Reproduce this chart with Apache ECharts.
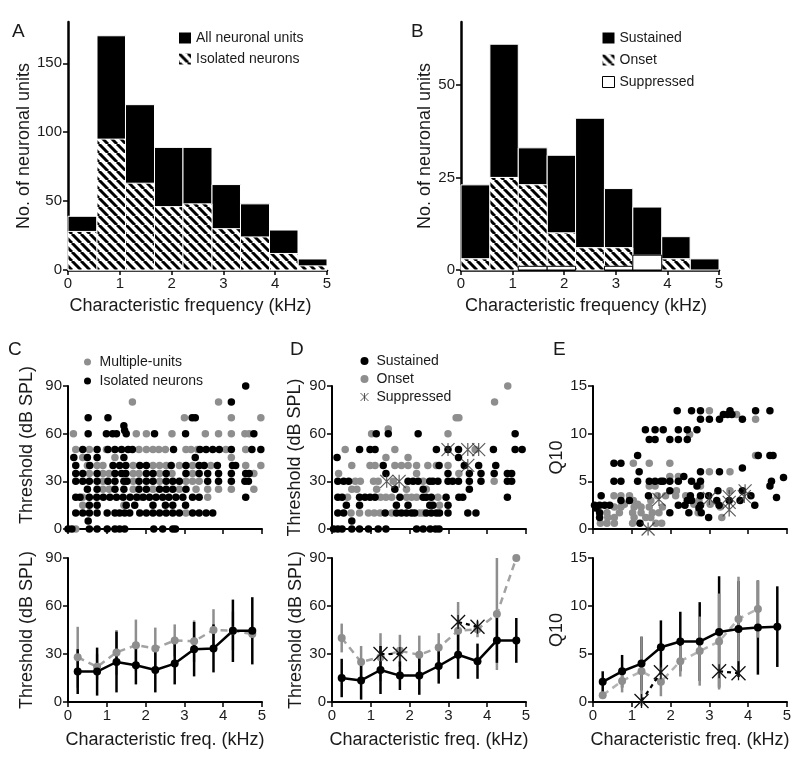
<!DOCTYPE html>
<html>
<head>
<meta charset="utf-8">
<script src="https://cdn.jsdelivr.net/npm/echarts@6/dist/echarts.min.js"></script>
<style>html,body{margin:0;background:#fff}#main{width:800px;height:766px}</style>
</head>
<body>
<div id="main"></div>
<script>
// ---------- data ----------
// histogram bins (kHz)
var cfBinEdges = [0, 0.56, 1.11, 1.67, 2.22, 2.78, 3.33, 3.89, 4.44, 5];
// A
var aAllUnits = [39, 170, 120, 89, 89, 62, 48, 29, 8];
var aIsolated = [28, 95, 63, 46, 48, 30, 24, 12, 3];
// B (stacked: suppressed, onset, sustained)
var bSuppressed = [0, 0, 1, 1, 0, 1, 4, 0, 0];
var bOnset = [3, 25, 22, 9, 6, 5, 0, 3, 0];
var bSustained = [20, 36, 10, 21, 35, 16, 13, 6, 3];

// scatter rows: [value, [CF kHz ...]]
var cIsolatedRows = [
    [90, [4.58]], [80, [4.21]], [70, [0.52, 1.03, 3.2, 3.28]], [65, [1.44]], [62, [1.46]],
    [60, [0.52, 0.99, 1.15, 1.25, 1.5, 2.23, 3.03, 4.79]],
    [50, [0.38, 0.75, 1.03, 1.21, 1.38, 1.55, 1.66, 2.72, 3.4, 3.56, 3.73, 3.9, 4.21, 4.74, 4.97]],
    [45, [0.15, 0.5, 0.75, 1.44, 3.28]],
    [40, [0.2, 0.56, 1.16, 1.33, 1.49, 1.85, 2.02, 2.66, 3.04, 3.38, 3.51, 3.85, 4.24, 4.32]],
    [35, [0.2, 0.38, 0.75, 1.21, 1.38, 1.49, 2.02, 2.19, 2.53, 3.04, 3.38, 3.6, 3.88, 4.21, 4.58, 4.67]],
    [30, [0.2, 0.38, 0.55, 0.75, 1.03, 1.21, 1.44, 1.52, 1.83, 2.02, 2.19, 2.53, 2.7, 2.87, 3.6, 3.88, 4.21, 4.56, 4.65]],
    [25, [0.5, 0.75, 1.21, 1.44, 1.83, 2.02, 2.36, 2.53, 2.7, 3.04]],
    [20, [0.2, 0.31, 0.55, 0.74, 0.91, 1.08, 1.25, 1.42, 1.6, 1.77, 1.94, 2.1, 2.27, 2.44, 2.6, 2.78, 2.96, 3.21, 3.38, 4.58]],
    [15, [0.55, 0.75, 1.5, 1.72, 2.19, 2.51, 2.7, 3.03]],
    [10, [0.2, 0.38, 0.55, 0.75, 1.01, 1.21, 1.33, 1.46, 1.59, 1.85, 2.02, 2.19, 2.36, 2.53, 2.7, 2.87, 3.21, 3.38, 3.56, 3.73]],
    [5, [0.52]],
    [0, [0.0, 0.1, 0.55, 0.75, 1.01, 1.21, 1.33, 1.46, 2.21, 2.44, 2.7, 2.77]]
];
var cMultiRows = [
    [80, [1.66, 3.88]], [70, [3.0, 4.21, 4.97]],
    [60, [0.14, 1.76, 2.02, 2.68, 3.54, 3.88, 4.21, 4.56, 4.67]],
    [50, [0.2, 0.55, 0.99, 1.83, 2.02, 2.19, 2.34, 2.51, 3.04, 3.17, 3.34, 4.07, 4.58]],
    [45, [0.38, 1.21, 4.21]],
    [40, [0.5, 0.75, 0.9, 1.68, 2.19, 2.36, 2.53, 2.87, 3.21, 3.68, 4.58, 4.97]],
    [35, [0.55, 0.9, 1.06, 1.68, 1.83, 2.36, 2.68, 3.21, 4.79]],
    [30, [0.9, 1.68, 2.36, 3.04, 3.21, 3.38]],
    [25, [0.9, 1.06, 1.68, 2.19, 2.87, 3.3, 3.6, 3.88, 4.21, 4.79]],
    [20, [0.38, 1.85, 3.6]], [15, [0.38, 1.44]], [10, [3.04]], [0, [0.2]]
];
var dSustainedRows = [
    [60, [1.14, 1.45, 2.22, 4.72]],
    [50, [0.71, 0.98, 1.11, 2.69, 2.99, 3.26, 4.16, 4.72, 4.9]],
    [45, [0.13, 3.26]],
    [40, [1.32, 2.76, 3.41, 3.78, 4.22]],
    [35, [1.39, 2.99, 3.54, 3.84, 4.18, 4.52, 4.63]],
    [30, [0.15, 0.3, 0.43, 1.96, 2.09, 2.22, 2.52, 2.6, 2.73, 2.99, 3.11, 3.26, 3.54, 3.84, 4.52, 4.63]],
    [25, [1.62, 2.35, 3.54]],
    [20, [0.15, 0.26, 0.71, 0.85, 0.98, 1.11, 1.75, 2.35, 2.43, 2.56, 2.94, 3.27, 3.37, 4.52]],
    [15, [0.37, 0.71, 1.66, 1.96, 2.52, 2.6, 2.99]],
    [10, [0.15, 0.3, 1.37, 1.66, 1.79, 1.92, 2.05, 2.13, 2.43, 2.56, 2.69, 2.77, 2.99, 3.5, 3.71]],
    [5, [0.51]],
    [0, [0.04, 0.15, 0.26, 0.51, 0.71, 0.94, 1.19, 1.39, 2.18, 2.35, 2.53, 2.67, 2.76]]
];
var dOnsetRows = [
    [90, [4.53]], [80, [4.19]], [70, [3.2, 3.27]], [63, [1.45]], [60, [1.02, 2.99]],
    [50, [0.34, 1.62, 3.69]], [45, [1.39, 1.96]],
    [40, [0.51, 0.98, 1.11, 1.62, 1.79, 1.96, 2.18, 2.47, 2.69, 2.99]],
    [35, [0.17, 2.18, 3.27]],
    [30, [0.6, 0.73, 1.07, 1.19, 1.58, 2.35, 4.18]],
    [25, [0.51, 0.64, 1.15, 1.92, 2.43]],
    [20, [0.4, 1.25, 1.39, 1.54, 1.92, 2.05, 2.18, 2.73]],
    [15, [2.77]],
    [10, [0.49, 0.71, 0.94, 1.09, 1.24, 1.54, 2.26, 2.35]]
];
var dSuppressedRows = [[50, [2.99, 3.5, 3.78]], [40, [3.5]], [30, [1.41, 1.73]]];

var eSustainedRows = [
    [12.4, [2.17, 2.54, 2.77, 3.53, 4.19, 4.56]], [12.0, [3.36, 3.47, 3.58]],
    [11.5, [2.77, 3.0, 3.26, 3.85]], [10.4, [1.35, 1.6, 1.81, 2.2, 2.43, 2.68]],
    [9.4, [1.45, 1.6, 1.98, 2.2, 2.43]], [7.7, [1.15, 4.26, 4.56, 4.64]],
    [6.9, [0.54, 0.72]], [6.4, [3.85]], [6.0, [1.19, 2.77, 3.26]], [5.4, [4.91]],
    [5.0, [0.54, 0.72, 1.15, 1.45, 1.6, 1.75, 1.81, 1.98, 2.2, 2.54, 2.77, 4.6]],
    [5.5, [2.34]], [4.5, [2.68, 4.56]], [4.0, [1.98, 3.22, 3.85]],
    [3.5, [0.21, 1.43, 2.51, 2.77, 2.98, 4.07]], [3.3, [4.73]],
    [3.0, [0.72, 0.94, 2.43, 2.54, 3.19, 3.51, 3.79]],
    [2.5, [0.04, 0.17, 0.3, 0.43, 2.2, 2.37, 2.77, 3.25, 4.17]],
    [2.2, [0.07, 2.73]], [1.7, [0.17, 1.98, 2.47, 2.79]], [1.2, [0.17, 2.98]], [0.6, [1.21]]
];
var eOnsetRows = [
    [12.4, [3.0]], [12.0, [3.7]], [11.5, [4.19]], [9.9, [2.49]], [7.7, [4.19, 4.24]],
    [6.9, [1.04, 1.45, 1.98]], [6.0, [3.0, 3.53]], [5.5, [1.98, 2.2]],
    [4.5, [1.45, 1.6, 2.77]], [4.0, [2.15, 3.53]],
    [3.5, [0.54, 0.72, 0.94, 1.66, 1.87, 2.13, 2.39]], [3.0, [1.04, 1.49, 2.73]],
    [2.6, [0.81, 1.15, 2.6, 3.02]], [2.3, [0.55, 0.72, 1.06, 1.24, 1.45, 1.79, 3.28]],
    [1.7, [0.36, 0.68, 1.02, 1.24, 1.53, 1.7, 2.71]],
    [1.2, [0.38, 0.55, 1.06, 1.36, 1.49, 3.32]],
    [0.6, [0.19, 0.36, 0.55, 1.02, 1.62, 1.77]]
];
var eSuppressedRows = [[0, [1.42]], [3.1, [1.7]], [3.2, [3.0]], [3.4, [3.51, 3.9]], [2.8, [3.51]], [2.0, [3.51]], [4.0, [3.92]]];

// binned means +/- sd (bottom row)
var bandCenters = [0.25, 0.75, 1.25, 1.75, 2.25, 2.75, 3.25, 3.75, 4.25, 4.75];
var cIsoMean = [19, 19, 25, 23, 20, 24, 33, 33.5, 44.5, 44.5];
var cIsoSd = [14, 15, 19, 12, 14, 13, 17, 15, 19.5, 21];
var cMultiMean = [28, 22, 31, 35.5, 33.5, 38.5, 38, 45, 44.5, 42.5];
var cMultiSd = [19, 8, 14, 16, 13, 10, 13, 13, 12, 0];
var dSusMean = [15, 13.5, 20, 16.5, 16.5, 22.5, 29.5, 25.5, 38.5, 38.5];
var dSusSd = [12, 12, 15, 9, 12, 11, 15, 11, 14, 14];
var dOnMean = [40, 25, 28, 32, 29.5, 34, 44.5, 45.5, 55, 90];
var dOnSd = [9, 10, 15, 10, 12, 9, 18, 5, 35, 0];
var dSupMean = [null, null, 30, 30, null, null, 50, 47, null, null];
var eSusMean = [2.1, 3.2, 4.0, 5.7, 6.3, 6.3, 7.3, 7.6, 7.75, 7.85];
var eSusSd = [1.1, 1.7, 2.8, 2.8, 3.1, 4.1, 5.8, 5.0, 4.9, 4.2];
var eOnMean = [0.7, 2.2, 3.2, 2.1, 4.25, 5.3, 6.3, 8.65, 9.7, null];
var eOnSd = [0, 1.2, 3.6, 1.5, 1.6, 3.6, 5.0, 4.4, 3.0, 0];
var eSupMean = [null, null, 0.1, 3.1, null, null, 3.2, 3.0, null, null];

// ---------- styles ----------
var FONT = 'Liberation Sans, Arial, Helvetica, sans-serif';
var TXT = '#1a1a1a';
var GRAY = '#8e8e8e';
var GRAY_LINE = '#a2a2a2';
var STAR = 'path://M0,0L10,10M10,0L0,10M5,0L5,10';

function hatchCanvas() {
    var c = document.createElement('canvas');
    c.width = 9; c.height = 9;
    var g = c.getContext('2d');
    g.fillStyle = '#fff';
    g.fillRect(0, 0, 9, 9);
    g.strokeStyle = '#000';
    g.lineWidth = 3;
    [-9, 0, 9].forEach(function (k) {
        g.beginPath(); g.moveTo(k, 0); g.lineTo(k + 9, 9); g.stroke();
    });
    return c;
}
var HATCH = { image: hatchCanvas(), repeat: 'repeat' };

var myChart = echarts.init(document.getElementById('main'));

// ---------- helpers ----------
function rowsToPoints(rows) {
    var pts = [];
    rows.forEach(function (r) {
        r[1].forEach(function (cf) { pts.push([cf, r[0]]); });
    });
    return pts;
}
function histBars(lows, highs) {
    var out = [];
    for (var i = 0; i < highs.length; i++) {
        if (highs[i] > lows[i]) out.push([cfBinEdges[i], cfBinEdges[i + 1], lows[i], highs[i]]);
    }
    return out;
}
function histSeries(name, grid, lows, highs, fill, stroke) {
    return {
        type: 'custom', name: name, xAxisIndex: grid, yAxisIndex: grid,
        itemStyle: { color: fill },
        encode: { x: [0, 1], y: [2, 3] },
        data: histBars(lows, highs),
        renderItem: function (params, api) {
            var a = api.coord([api.value(0), api.value(3)]);
            var b = api.coord([api.value(1), api.value(2)]);
            return {
                type: 'rect',
                shape: { x: a[0], y: a[1], width: b[0] - a[0], height: b[1] - a[1] },
                style: { fill: fill, stroke: stroke, lineWidth: 1 }
            };
        }
    };
}
function scatterSeries(name, grid, rows, color) {
    return {
        type: 'scatter', name: name, xAxisIndex: grid, yAxisIndex: grid,
        symbol: 'circle', symbolSize: 7.5,
        itemStyle: { color: color, opacity: 1 },
        data: rowsToPoints(rows)
    };
}
function starSeries(name, grid, rows) {
    return {
        type: 'scatter', name: name, xAxisIndex: grid, yAxisIndex: grid,
        symbol: STAR, symbolSize: 13, z: 5,
        itemStyle: { color: 'none', borderColor: '#333', borderWidth: 1.2 },
        data: rowsToPoints(rows)
    };
}
function pairs(means) {
    return bandCenters.map(function (x, i) { return [x, means[i] == null ? '-' : means[i]]; });
}
function errSeries(name, grid, means, sds, color) {
    var data = [];
    bandCenters.forEach(function (x, i) {
        if (means[i] != null) data.push([x, means[i], sds[i]]);
    });
    return {
        type: 'custom', name: name, xAxisIndex: grid, yAxisIndex: grid,
        encode: { x: 0, y: 1 }, data: data,
        renderItem: function (params, api) {
            var x = api.value(0), m = api.value(1), s = api.value(2);
            var p1 = api.coord([x, m + s]), p2 = api.coord([x, m - s]);
            return {
                type: 'line',
                shape: { x1: p1[0], y1: p1[1], x2: p2[0], y2: p2[1] },
                style: { stroke: color, lineWidth: 2.5 }
            };
        }
    };
}
function meanLine(name, grid, means, color, lineColor, dashed) {
    return {
        type: 'line', name: name, xAxisIndex: grid, yAxisIndex: grid,
        data: pairs(means), symbol: 'circle', symbolSize: 8, z: 3,
        itemStyle: { color: color },
        lineStyle: { color: lineColor, width: 2.5, type: dashed ? [7, 5] : 'solid' }
    };
}
function starLine(name, grid, means) {
    return {
        type: 'line', name: name, xAxisIndex: grid, yAxisIndex: grid,
        data: pairs(means), symbol: STAR, symbolSize: 14, z: 4,
        itemStyle: { color: 'none', borderColor: '#111', borderWidth: 1.3 },
        lineStyle: { color: '#000', width: 2.2, type: [4, 4] }
    };
}
function axis(grid, o) {
    var a = {
        type: 'value', gridIndex: grid, min: 0, max: o.max, interval: o.interval,
        axisLine: { show: true, onZero: false, lineStyle: { color: '#000', width: 2 } },
        axisTick: { show: true, length: 5, lineStyle: { color: '#000', width: 1.5 } },
        axisLabel: { show: o.labels !== false, color: TXT, fontSize: 15, fontFamily: FONT, margin: 6 },
        splitLine: { show: false },
        name: o.name || '', nameLocation: 'middle', nameGap: o.gap || 0,
        nameTextStyle: { color: TXT, fontSize: 18, fontFamily: FONT, padding: o.pad || 0 }
    };
    if (o.custom) {
        a.axisTick.customValues = o.custom;
        a.axisLabel.customValues = o.custom;
    }
    return a;
}
function legend(left, top, gap, items) {
    return {
        left: left, top: top, orient: 'vertical', itemGap: gap, padding: 0,
        itemWidth: 12, itemHeight: 11, selectedMode: false,
        textStyle: { color: TXT, fontSize: 14, fontFamily: FONT },
        formatter: function (n) { return n.split('|')[1]; },
        data: items
    };
}

// ---------- layout ----------
var grids = [
    { left: 68, top: 22, width: 259, height: 248 },   // A
    { left: 461, top: 22, width: 258, height: 248 },  // B
    { left: 68, top: 386, width: 194, height: 143 },  // C top
    { left: 332, top: 386, width: 194, height: 143 }, // D top
    { left: 593, top: 386, width: 194, height: 143 }, // E top
    { left: 68, top: 558, width: 194, height: 144 },  // C bottom
    { left: 332, top: 558, width: 194, height: 144 }, // D bottom
    { left: 593, top: 558, width: 194, height: 144 }  // E bottom
].map(function (g) { g.outerBoundsMode = 'none'; g.containLabel = false; return g; });

var xAxes = [
    axis(0, { max: 5, interval: 1, name: 'Characteristic frequency (kHz)', gap: 27, pad: [0, 14, 0, 0] }),
    axis(1, { max: 5, interval: 1, name: 'Characteristic frequency (kHz)', gap: 27, pad: [0, 8, 0, 0] }),
    axis(2, { max: 5, interval: 1, labels: false }),
    axis(3, { max: 5, interval: 1, labels: false }),
    axis(4, { max: 5, interval: 1, labels: false }),
    axis(5, { max: 5, interval: 1, name: 'Characteristic freq. (kHz)', gap: 29 }),
    axis(6, { max: 5, interval: 1, name: 'Characteristic freq. (kHz)', gap: 29 }),
    axis(7, { max: 5, interval: 1, name: 'Characteristic freq. (kHz)', gap: 29 })
];
xAxes[0].axisLine.lineStyle.width = 2.5;
xAxes[1].axisLine.lineStyle.width = 2.5;

var yAxes = [
    axis(0, { max: 180, interval: 50, custom: [0, 50, 100, 150], name: 'No. of neuronal units', gap: 34 }),
    axis(1, { max: 67, interval: 25, custom: [0, 25, 50], name: 'No. of neuronal units', gap: 27 }),
    axis(2, { max: 90, interval: 30, name: 'Threshold (dB SPL)', gap: 32, pad: [0, 0, 0, 25] }),
    axis(3, { max: 90, interval: 30, name: 'Threshold (dB SPL)', gap: 28 }),
    axis(4, { max: 15, interval: 5, name: 'Q10', gap: 24 }),
    axis(5, { max: 90, interval: 30, name: 'Threshold (dB SPL)', gap: 32 }),
    axis(6, { max: 90, interval: 30, name: 'Threshold (dB SPL)', gap: 27 }),
    axis(7, { max: 15, interval: 5, name: 'Q10', gap: 24 })
];
yAxes[0].axisLine.lineStyle.width = 2.5;
yAxes[1].axisLine.lineStyle.width = 2.5;

var zeros = aAllUnits.map(function () { return 0; });
var bOnsetTop = bSuppressed.map(function (s, i) { return s + bOnset[i]; });
var bTotal = bOnsetTop.map(function (v, i) { return v + bSustained[i]; });

var series = [
    // A
    histSeries('A|All neuronal units', 0, zeros, aAllUnits, '#000', '#fff'),
    histSeries('A|Isolated neurons', 0, zeros, aIsolated, HATCH, '#fff'),
    // B
    histSeries('B|Sustained', 1, bOnsetTop, bTotal, '#000', '#fff'),
    histSeries('B|Onset', 1, bSuppressed, bOnsetTop, HATCH, '#fff'),
    histSeries('B|Suppressed', 1, zeros, bSuppressed, '#fff', '#000'),
    // C top
    scatterSeries('C|Multiple-units', 2, cMultiRows, GRAY),
    scatterSeries('C|Isolated neurons', 2, cIsolatedRows, '#000'),
    // D top
    scatterSeries('D|Onset', 3, dOnsetRows, GRAY),
    scatterSeries('D|Sustained', 3, dSustainedRows, '#000'),
    starSeries('D|Suppressed', 3, dSuppressedRows),
    // E top
    scatterSeries('E|Onset', 4, eOnsetRows, GRAY),
    scatterSeries('E|Sustained', 4, eSustainedRows, '#000'),
    starSeries('E|Suppressed', 4, eSuppressedRows),
    // C bottom
    errSeries('C|multi sd', 5, cMultiMean, cMultiSd, GRAY),
    errSeries('C|iso sd', 5, cIsoMean, cIsoSd, '#000'),
    meanLine('C|multi mean', 5, cMultiMean, GRAY, GRAY_LINE, true),
    meanLine('C|iso mean', 5, cIsoMean, '#000', '#000', false),
    // D bottom
    errSeries('D|on sd', 6, dOnMean, dOnSd, GRAY),
    errSeries('D|sus sd', 6, dSusMean, dSusSd, '#000'),
    meanLine('D|on mean', 6, dOnMean, GRAY, GRAY_LINE, true),
    meanLine('D|sus mean', 6, dSusMean, '#000', '#000', false),
    starLine('D|sup mean', 6, dSupMean),
    // E bottom
    errSeries('E|sus sd', 7, eSusMean, eSusSd, '#000'),
    errSeries('E|on sd', 7, eOnMean, eOnSd, GRAY),
    meanLine('E|on mean', 7, eOnMean, GRAY, '#b4b4b4', true),
    meanLine('E|sus mean', 7, eSusMean, '#000', '#000', false),
    starLine('E|sup mean', 7, eSupMean)
];

var letterStyle = { color: TXT, fontSize: 19, fontWeight: 'normal', fontFamily: FONT };
var option = {
    animation: false,
    backgroundColor: '#fff',
    title: [
        { text: 'A', left: 12, top: 22, padding: 0, textStyle: letterStyle },
        { text: 'B', left: 411, top: 22, padding: 0, textStyle: letterStyle },
        { text: 'C', left: 8, top: 340, padding: 0, textStyle: letterStyle },
        { text: 'D', left: 290, top: 340, padding: 0, textStyle: letterStyle },
        { text: 'E', left: 553, top: 340, padding: 0, textStyle: letterStyle }
    ],
    legend: [
        legend(179, 31, 7, [
            { name: 'A|All neuronal units', icon: 'rect', itemStyle: { color: '#000', borderWidth: 0 } },
            { name: 'A|Isolated neurons', icon: 'rect', itemStyle: { color: HATCH, borderWidth: 0 } }
        ]),
        legend(602, 31, 8, [
            { name: 'B|Sustained', icon: 'rect', itemStyle: { color: '#000', borderWidth: 0 } },
            { name: 'B|Onset', icon: 'rect', itemStyle: { color: HATCH, borderWidth: 0 } },
            { name: 'B|Suppressed', icon: 'rect', itemStyle: { color: '#fff', borderColor: '#000', borderWidth: 1 } }
        ]),
        Object.assign(legend(84, 355, 5, [
            { name: 'C|Multiple-units', icon: 'circle', itemStyle: { color: GRAY, borderWidth: 0 } },
            { name: 'C|Isolated neurons', icon: 'circle', itemStyle: { color: '#000', borderWidth: 0 } }
        ]), { itemWidth: 14, itemHeight: 7 }),
        Object.assign(legend(358, 354, 4, [
            { name: 'D|Sustained', icon: 'circle', itemStyle: { color: '#000', borderWidth: 0 } },
            { name: 'D|Onset', icon: 'circle', itemStyle: { color: GRAY, borderWidth: 0 } },
            { name: 'D|Suppressed', icon: STAR, itemStyle: { color: 'none', borderColor: '#333', borderWidth: 1 } }
        ]), { itemWidth: 14, itemHeight: 8 })
    ],
    grid: grids,
    xAxis: xAxes,
    yAxis: yAxes,
    series: series
};

myChart.setOption(option);
</script>
</body>
</html>
